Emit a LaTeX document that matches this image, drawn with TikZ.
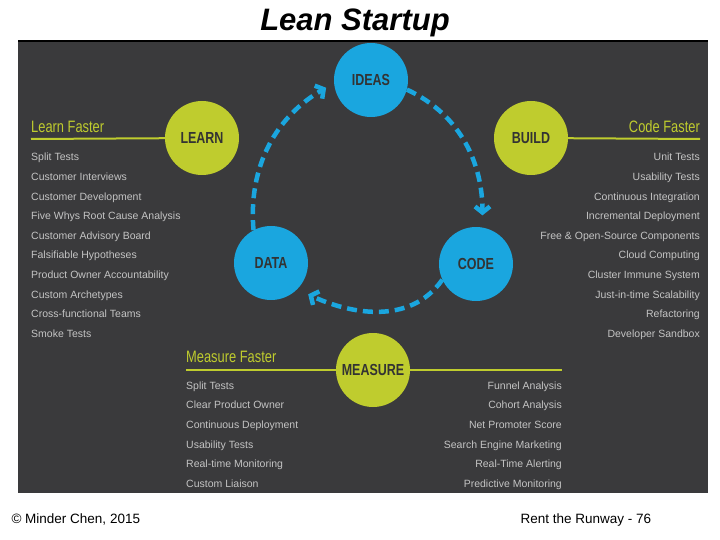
\documentclass[tikz,border=0pt]{standalone}
\usepackage{fontspec}
\setmainfont{Liberation Sans}
\newfontfamily\condfont[FakeStretch=0.78]{Liberation Sans}
\usetikzlibrary{arrows.meta,positioning}
\definecolor{panel}{HTML}{3A3A3C}
\definecolor{lime}{HTML}{BFCC2E}
\definecolor{sky}{HTML}{1AA6DF}
\definecolor{itemgray}{HTML}{C4C4C4}
\definecolor{ink}{HTML}{333333}

\begin{document}
\begin{tikzpicture}[x=1pt, y=-1pt,
  stage/.style={circle, minimum size=74pt, inner sep=0pt, text=ink,
    font=\condfont\bfseries\fontsize{16}{16}\selectfont},
  limestage/.style={stage, fill=lime},
  skystage/.style={stage, fill=sky},
  sidehead/.style={inner sep=0pt, text=lime,
    font=\condfont\fontsize{16.5}{18}\selectfont},
  items/.style={inner sep=0pt, text=itemgray,
    font=\fontsize{10.5}{19.6}\selectfont},
  headrule/.style={draw=lime, line width=2pt},
  cyclearrow/.style={draw=sky, line width=4.5pt, dash pattern=on 10pt off 6pt,
    -{Straight Barb[length=6pt,width=15pt]}}]

  \useasboundingbox[fill=white] (0,0) rectangle (720,540);
  \fill[panel] (18,40) rectangle (708,493);
  \draw[black, line width=2.5pt] (18,41) -- (708,41);

  \node[font=\bfseries\itshape\fontsize{31}{31}\selectfont, anchor=base]
    (title) at (355,31) {Lean Startup};

  % the six stages
  \node[skystage] (ideas) at (371,80) {IDEAS};
  \node[limestage] (learn) at (202,138) {LEARN};
  \node[limestage] (build) at (531,138) {BUILD};
  \node[skystage] (data) at (271,263) {DATA};
  \node[skystage] (code) at (476,264) {CODE};
  \node[limestage] (measure) at (373,370) {MEASURE};

  % rules under the headings
  \coordinate (learnend) at (31,139);
  \coordinate (buildend) at (700,139);
  \coordinate (measl) at (186,370);
  \coordinate (measr) at (562,370);
  \draw[headrule] (learnend) -- (learn);
  \draw[headrule] (build) -- (buildend);
  \draw[headrule] (measl) -- (measure) -- (measr);

  \node[sidehead, anchor=base west] (learnhead) at (31,133) {Learn Faster};
  \node[sidehead, anchor=base east] (buildhead) at (700,133) {Code Faster};
  \node[sidehead, anchor=base west] (measurehead) at (186,362) {Measure Faster};

  % lists
  \node[items, anchor=north west, align=left] (learnlist) at (31,153) {
    Split Tests\\
    Customer Interviews\\
    Customer Development\\
    Five Whys Root Cause Analysis\\
    Customer Advisory Board\\
    Falsifiable Hypotheses\\
    Product Owner Accountability\\
    Custom Archetypes\\
    Cross-functional Teams\\
    Smoke Tests};
  \node[items, anchor=north east, align=right] (buildlist) at (700,153) {
    Unit Tests\\
    Usability Tests\\
    Continuous Integration\\
    Incremental Deployment\\
    Free \& Open-Source Components\\
    Cloud Computing\\
    Cluster Immune System\\
    Just-in-time Scalability\\
    Refactoring\\
    Developer Sandbox};
  \node[items, anchor=north west, align=left] (measureleft) at (186,381.5) {
    Split Tests\\
    Clear Product Owner\\
    Continuous Deployment\\
    Usability Tests\\
    Real-time Monitoring\\
    Custom Liaison};
  \node[items, anchor=north east, align=right] (measureright) at (562,381.5) {
    Funnel Analysis\\
    Cohort Analysis\\
    Net Promoter Score\\
    Search Engine Marketing\\
    Real-Time Alerting\\
    Predictive Monitoring};

  % the loop
  \draw[cyclearrow, shorten >=12pt] (ideas.-15) to[out=-25, in=90] (code.80);
  \draw[cyclearrow, shorten >=12pt] (code.205) to[out=235, in=-25] (data.-45);
  \draw[cyclearrow, shorten >=9pt] (data.118) to[out=95, in=210] (ideas.185);

  \node[anchor=base west, font=\fontsize{13.5}{14}\selectfont]
    (credit) at (8,523) {\textcopyright{} Minder Chen, 2015};
  \node[anchor=base west, font=\fontsize{13.5}{14}\selectfont]
    (pageno) at (517,523) {Rent the Runway - 76};
\end{tikzpicture}
\end{document}
